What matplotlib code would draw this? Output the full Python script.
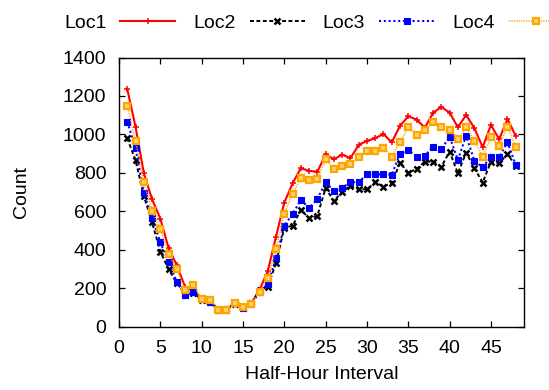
import matplotlib
matplotlib.use("Agg")
import matplotlib.pyplot as plt
import numpy as np

plt.rcParams['font.family'] = ['Liberation Sans', 'DejaVu Sans']

intervals = list(range(1, 49))

loc1 = [1236, 1040, 799, 662, 562, 408, 318, 205, 185, 148, 135, 90,
        85, 125, 100, 120, 190, 288, 468, 645, 745, 824, 810, 806,
        896, 870, 895, 876, 945, 966, 980, 1002, 958, 1045, 1094, 1077,
        1035, 1112, 1143, 1113, 1037, 1101, 1032, 933, 1049, 974, 1080, 992]

loc2 = [980, 865, 680, 542, 390, 298, 225, 170, 175, 140, 130, 85,
        90, 118, 98, 120, 190, 208, 330, 515, 524, 607, 564, 577,
        720, 653, 702, 732, 714, 714, 751, 728, 748, 851, 801, 819,
        858, 858, 832, 910, 797, 905, 824, 749, 858, 850, 898, 836]

loc3 = [1066, 928, 695, 566, 439, 334, 232, 163, 178, 141, 127, 88,
        86, 120, 95, 115, 180, 220, 355, 524, 586, 659, 616, 664,
        751, 704, 722, 751, 751, 792, 792, 792, 790, 900, 919, 884,
        888, 936, 922, 988, 867, 993, 862, 829, 884, 881, 959, 841]

loc4 = [1149, 966, 750, 603, 508, 376, 299, 189, 217, 143, 139, 87,
        84, 123, 100, 119, 182, 252, 404, 587, 690, 772, 760, 766,
        870, 818, 836, 844, 884, 915, 915, 931, 884, 959, 1037, 998,
        1021, 1063, 1040, 1023, 976, 1037, 967, 884, 985, 940, 1040, 933]

series_names = ['Loc1', 'Loc2', 'Loc3', 'Loc4']
x_ticks = [0, 5, 10, 15, 20, 25, 30, 35, 40, 45]
y_ticks = [0, 200, 400, 600, 800, 1000, 1200, 1400]

W, H = 549, 390
fig = plt.figure(figsize=(W / 100, H / 100), dpi=100)
ax = fig.add_axes([119 / W, 1 - 326.5 / H, (524 - 119) / W, (326.5 - 57.5) / H])

styles = [
    dict(color='#FF0000', linestyle='-', linewidth=1.5, marker='+',
         markersize=5, markeredgewidth=1.1),
    dict(color='#000000', linestyle=(0, (2.0, 1.3)), linewidth=1.4, marker='x',
         markersize=4.2, markeredgewidth=1.8),
    dict(color='#0000FF', linestyle=(0, (1.0, 1.3)), linewidth=1.5, marker='s',
         markersize=3.8, markeredgewidth=0.8),
    dict(color='#FFA500', linestyle=(0, (0.8, 0.8)), linewidth=1.1, marker='s',
         markersize=4.4, markeredgewidth=1.6, markerfacecolor='#FFD27A',
         markeredgecolor='#FFA500'),
]

handles = []
for name, vals, st in zip(series_names, [loc1, loc2, loc3, loc4], styles):
    h, = ax.plot(intervals, vals, label=name, **st)
    handles.append(h)

ax.set_xlim(0, 49)
ax.set_ylim(0, 1400)
ax.set_xticks(x_ticks)
ax.set_yticks(y_ticks)
ax.tick_params(direction='in', length=4.5, width=0.9, top=True, right=True,
               labelsize=14, colors='black')
ax.tick_params(axis='x', pad=10)
ax.tick_params(axis='y', pad=9)
for sp in ax.spines.values():
    sp.set_linewidth(1.0)

ax.set_xlabel('Half-Hour Interval', fontsize=14, labelpad=6)
ax.set_ylabel('Count', fontsize=14, labelpad=24)

fs_px = 14 * 100 / 72
leg = fig.legend(handles=handles, labels=series_names, loc='center left',
                 bbox_to_anchor=(64 / W, 1 - 23.5 / H), ncol=4, frameon=False,
                 markerfirst=False, numpoints=1, fontsize=14, borderpad=0,
                 borderaxespad=0, handlelength=55 / fs_px,
                 handletextpad=14 / fs_px, columnspacing=18 / fs_px)

fig.savefig('out.png', dpi=100)
